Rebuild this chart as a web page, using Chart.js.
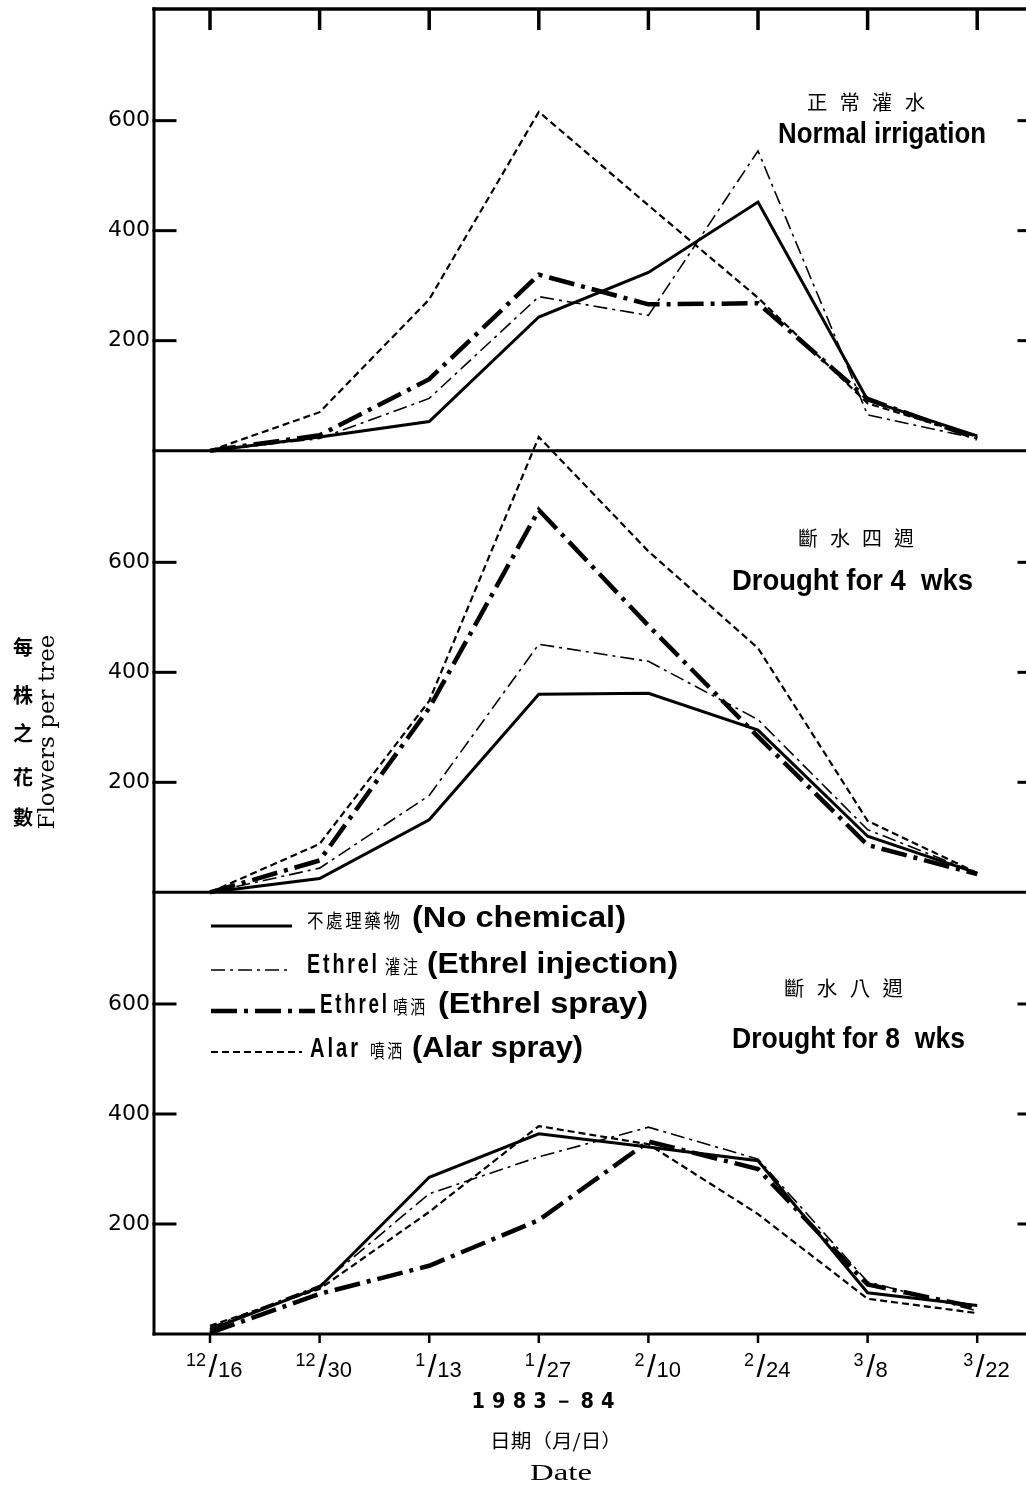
<!DOCTYPE html>
<html>
<head>
<meta charset="utf-8">
<script src="https://cdn.jsdelivr.net/npm/chart.js@4.4.0/dist/chart.umd.min.js"></script>
<style>
html,body{margin:0;padding:0;background:#fff;overflow:hidden;width:1026px;height:1497px}
#wrap{position:relative;width:1040px;height:1497px}
canvas{display:block}
</style>
</head>
<body>
<div id="wrap"><canvas id="c" width="1040" height="1497"></canvas></div>
<script>
// ---------------- data ----------------
const dates = ['12/16','12/30','1/13','1/27','2/10','2/24','3/8','3/22'];
const yTickValues = [200, 400, 600];

// Normal irrigation (正常灌水)
const normal_noChem    = [0, 25, 53, 243, 324, 452, 92, 27];
const normal_injection = [0, 22, 95, 280, 246, 545, 65, 22];
const normal_spray     = [0, 28, 130, 320, 266, 268, 94, 22];
const normal_alar      = [0, 70, 275, 616, 446, 278, 86, 25];

// Drought for 4 wks (斷水四週)
const d4_noChem    = [0, 25, 132, 360, 362, 295, 102, 35];
const d4_injection = [0, 44, 176, 451, 420, 314, 114, 35];
const d4_spray     = [0, 58, 335, 695, 485, 283, 86, 33];
const d4_alar      = [0, 88, 348, 828, 620, 444, 130, 35];

// Drought for 8 wks (斷水八週)
const d8_noChem    = [8, 85, 285, 364, 340, 315, 75, 52];
const d8_injection = [12, 88, 255, 322, 376, 318, 95, 42];
const d8_spray     = [2, 73, 124, 207, 350, 300, 90, 48];
const d8_alar      = [15, 82, 222, 378, 345, 218, 64, 38];

const seriesZh = ['不處理藥物', '灌注', '噴洒', '噴洒'];
const seriesEn = ['(No chemical)', '(Ethrel injection)', '(Ethrel spray)', '(Alar spray)'];
const seriesPrefix = ['', 'Ethrel', 'Ethrel', 'Alar'];
const panelZh = ['正常灌水', '斷水四週', '斷水八週'];
const panelEn = ['Normal irrigation', 'Drought for 4  wks', 'Drought for 8  wks'];

// ---------------- styles ----------------
const lineStyles = [
  {borderWidth: 3,   borderDash: []},
  {borderWidth: 1.6, borderDash: [14, 5, 3, 5]},
  {borderWidth: 4.5, borderDash: [26, 7, 4, 7]},
  {borderWidth: 2.2, borderDash: [7, 4]}
];
const panels = [
  {id: 'yN', series: [normal_noChem, normal_injection, normal_spray, normal_alar]},
  {id: 'y4', series: [d4_noChem, d4_injection, d4_spray, d4_alar]},
  {id: 'y8', series: [d8_noChem, d8_injection, d8_spray, d8_alar]}
];

const datasets = [];
panels.forEach((p, pi) => {
  p.series.forEach((arr, k) => {
    datasets.push({
      label: panelEn[pi] + ' ' + seriesEn[k],
      data: arr.map((v, i) => ({x: i, y: v})),
      yAxisID: p.id,
      borderColor: '#000',
      backgroundColor: '#000',
      borderWidth: lineStyles[k].borderWidth,
      borderDash: lineStyles[k].borderDash,
      borderCapStyle: 'butt',
      borderJoinStyle: 'miter',
      pointRadius: 0,
      tension: 0,
      fill: false,
      clip: false
    });
  });
});

// ---------------- helpers ----------------
function txt(ctx, s, x, y, o) {
  ctx.save();
  ctx.font = o.font;
  ctx.fillStyle = '#000';
  ctx.textBaseline = o.baseline || 'middle';
  ctx.textAlign = 'left';
  const ls = o.ls || 0;
  try { ctx.letterSpacing = ls + 'px'; } catch (e) {}
  let w = ctx.measureText(s).width - ls;
  const sx = o.width ? o.width / w : 1;
  ctx.translate(x, y);
  if (o.rot) ctx.rotate(o.rot);
  ctx.scale(sx, 1);
  let off = 0;
  if (o.align === 'center') off = -w / 2;
  else if (o.align === 'right') off = -w;
  ctx.fillText(s, off, 0);
  ctx.restore();
}
function seg(ctx, x1, y1, x2, y2, w) {
  ctx.beginPath();
  ctx.lineWidth = w;
  ctx.moveTo(x1, y1);
  ctx.lineTo(x2, y2);
  ctx.stroke();
}

const CJK = '"Noto Sans CJK TC", "Noto Sans CJK SC", sans-serif';
const NARROW = '"Liberation Sans Narrow", "Liberation Sans", Arial, sans-serif';

const framePlugin = {
  id: 'frame',
  afterDatasetsDraw(chart) {
    const ctx = chart.ctx;
    const a = chart.chartArea;
    const xs = chart.scales.x;
    ctx.save();
    ctx.strokeStyle = '#000';
    ctx.lineCap = 'square';
    seg(ctx, a.left, a.top, a.left, a.bottom, 3);
    seg(ctx, a.right, a.top, a.right, a.bottom, 3);
    seg(ctx, a.left, a.top, a.right, a.top, 3.5);
    panels.forEach(p => {
      const s = chart.scales[p.id];
      seg(ctx, a.left, s.bottom, a.right, s.bottom, 3);
      yTickValues.forEach(v => {
        const py = s.getPixelForValue(v);
        seg(ctx, a.left, py, a.left + 21, py, 3);
        seg(ctx, a.right - 13, py, a.right, py, 3);
      });
    });
    ctx.lineCap = 'butt';
    dates.forEach((d, i) => {
      const px = xs.getPixelForValue(i);
      seg(ctx, px, a.top, px, a.top + 21, 3.5);
      seg(ctx, px, a.bottom, px, a.bottom + 9, 2.5);
    });
    ctx.restore();
  },
  afterDraw(chart) {
    const ctx = chart.ctx;
    const a = chart.chartArea;
    const xs = chart.scales.x;
    // x tick labels as fractions
    dates.forEach((d, i) => {
      const px = xs.getPixelForValue(i);
      const [num, den] = d.split('/');
      ctx.save();
      ctx.fillStyle = '#000';
      ctx.textBaseline = 'alphabetic';
      ctx.font = '18px "Liberation Sans", Arial, sans-serif';
      ctx.textAlign = 'right';
      ctx.fillText(num, px - 4, a.bottom + 32);
      ctx.font = '32px "Liberation Sans", Arial, sans-serif';
      ctx.textAlign = 'center';
      ctx.fillText('/', px + 3, a.bottom + 43);
      ctx.font = '22px "Liberation Sans", Arial, sans-serif';
      ctx.textAlign = 'left';
      ctx.fillText(den, px + 8, a.bottom + 43);
      ctx.restore();
    });
    // axis titles
    txt(ctx, '1983－84', 543, 1402, {font: 'bold 22px "DejaVu Sans", sans-serif', align: 'center', width: 143, ls: 8});
    txt(ctx, '日期（月/日）', 556, 1441, {font: '19px ' + CJK, align: 'center', width: 132});
    txt(ctx, 'Date', 561, 1474, {font: '23px "Liberation Serif", "DejaVu Serif", serif', align: 'center', width: 62});
    const zhY = '每株之花數';
    const zhPos = [647, 695, 733, 777, 817];
    zhY.split('').forEach((ch, i) => {
      txt(ctx, ch, 23, zhPos[i], {font: 'bold 20px ' + CJK, align: 'center'});
    });
    txt(ctx, 'Flowers per tree', 48, 732, {font: '22px "DejaVu Serif", "Liberation Serif", serif', align: 'center', width: 195, rot: -Math.PI / 2});

    // panel annotations
    const zhBox = [[807, 925, 102], [798, 914, 538], [784, 903, 988]];
    const enBox = [[778, 986, 135], [732, 973, 582], [732, 965, 1040]];
    panelZh.forEach((s, i) => {
      const b = zhBox[i];
      txt(ctx, s, b[0], b[2], {font: '20px ' + CJK, width: b[1] - b[0], ls: 12});
    });
    panelEn.forEach((s, i) => {
      const b = enBox[i];
      txt(ctx, s, b[0], b[2], {font: 'bold 29px ' + NARROW, width: b[1] - b[0]});
    });

    // legend inside bottom panel
    const rows = [
      {ly: 926, ty: 920, lx2: 292, pre: null, zh: [307, 400], en: [412, 626]},
      {ly: 970, ty: 966, lx2: 290, pre: [307, 377], zh: [385, 418], en: [427, 678]},
      {ly: 1011, ty: 1006, lx2: 315, pre: [320, 387], zh: [393, 425], en: [438, 648]},
      {ly: 1052, ty: 1050, lx2: 302, pre: [310, 358], zh: [370, 402], en: [412, 583]}
    ];
    rows.forEach((r, k) => {
      const st = lineStyles[k];
      ctx.save();
      ctx.strokeStyle = '#000';
      ctx.lineWidth = st.borderWidth;
      ctx.setLineDash(st.borderDash);
      ctx.beginPath();
      ctx.moveTo(xs.getPixelForValue(0) + 1, r.ly);
      ctx.lineTo(r.lx2, r.ly);
      ctx.stroke();
      ctx.restore();
      if (r.pre) txt(ctx, seriesPrefix[k], r.pre[0], r.ty, {font: 'bold 27px ' + NARROW, width: r.pre[1] - r.pre[0], ls: 4});
      txt(ctx, seriesZh[k], r.zh[0], r.ty + 1, {font: '19px ' + CJK, width: r.zh[1] - r.zh[0], ls: 3});
      txt(ctx, seriesEn[k], r.en[0], r.ty - 1, {font: 'bold 29px ' + NARROW, width: r.en[1] - r.en[0]});
    });
  }
};

function yScale() {
  return {
    type: 'linear',
    position: 'left',
    stack: 'panels',
    stackWeight: 1,
    min: 0,
    max: 803,
    grid: {display: false, drawTicks: false},
    border: {display: false},
    ticks: {color: '#000', padding: 4, font: {family: '"DejaVu Sans", sans-serif', size: 22}},
    afterBuildTicks: s => { s.ticks = yTickValues.map(v => ({value: v})); },
    afterFit: s => { s.width = 60; s.paddingTop = 0; s.paddingBottom = 0; }
  };
}

// stacked axes are laid out bottom-up in definition order
new Chart(document.getElementById('c'), {
  type: 'line',
  data: {datasets},
  options: {
    responsive: false,
    animation: false,
    devicePixelRatio: 1,
    layout: {padding: {left: 94, right: 8, top: 9, bottom: 153}},
    plugins: {legend: {display: false}, tooltip: {enabled: false}},
    scales: {
      x: {
        type: 'linear',
        min: -0.511,
        max: 7.5,
        grid: {display: false, drawTicks: false},
        border: {display: false},
        ticks: {display: false},
        afterBuildTicks: s => { s.ticks = dates.map((d, i) => ({value: i})); },
        afterFit: s => { s.height = 10; s.paddingLeft = 0; s.paddingRight = 0; }
      },
      y8: yScale(),
      y4: yScale(),
      yN: yScale()
    }
  },
  plugins: [framePlugin]
});
</script>
</body>
</html>
